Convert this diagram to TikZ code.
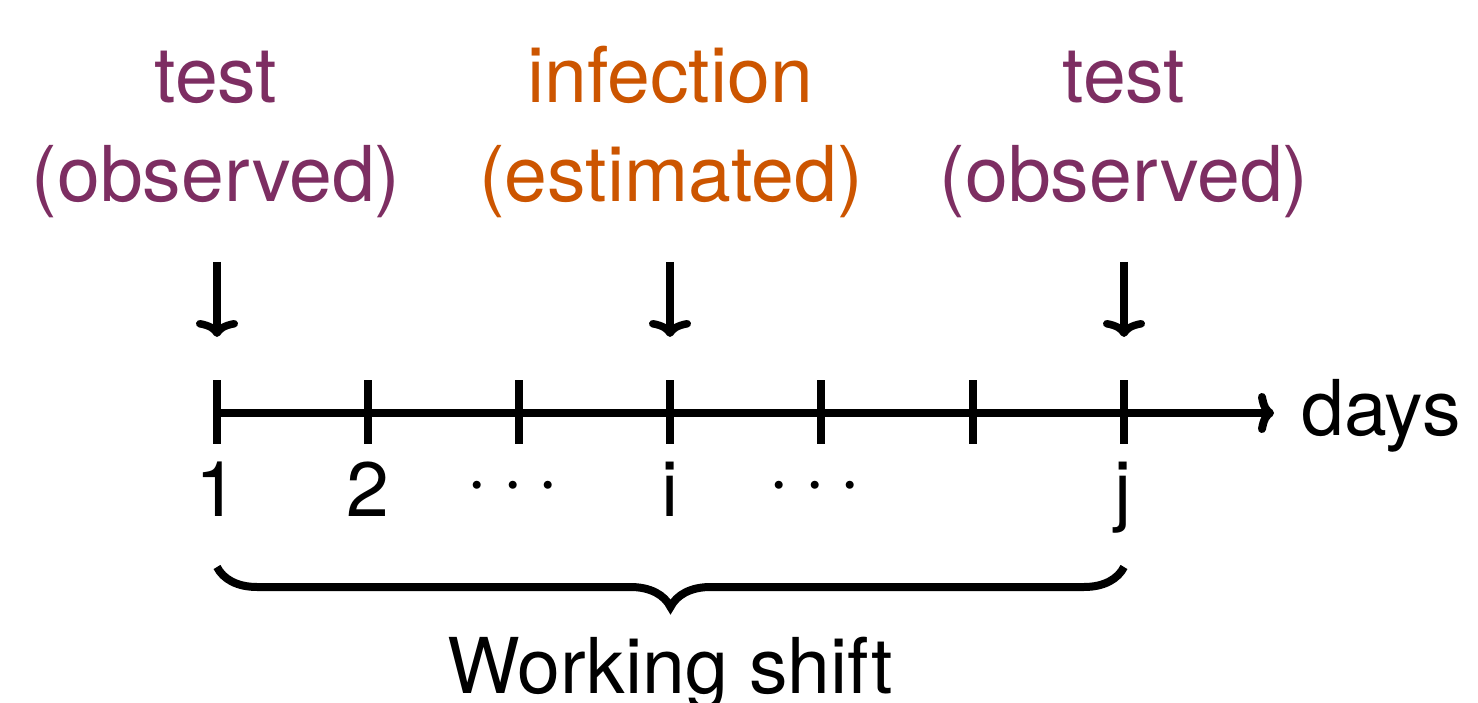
\documentclass[tikz,border=0pt]{standalone}
\usepackage{fontspec}
\setmainfont{TeX Gyre Heros}
\usetikzlibrary{arrows.meta,decorations.pathreplacing}
\definecolor{obscol}{HTML}{7D2E62}
\definecolor{estcol}{HTML}{CC5500}
\newcommand{\mydots}{·\kern14pt·\kern14pt·}
\begin{document}
\begin{tikzpicture}[x=1pt,y=-1pt,
  big/.style={font=\fontsize{77}{100}\selectfont, inner sep=0pt, anchor=base},
  tickmark/.style={line width=8pt},
  downarrow/.style={line width=7.5pt, -{To[length=17pt,width=42pt]}},
  axisarrow/.style={line width=8pt, -{To[length=16pt,width=40pt]}},
  bracestyle/.style={line width=8pt, decorate, decoration={brace,mirror,amplitude=40pt}}]
\useasboundingbox (0,0) rectangle (1478,703);

% titles
\node[big, text=obscol] (testA) at (216,103) {test};
\node[big, text=obscol] (obsA) at (216,202) {(observed)};
\node[big, text=estcol] (inf) at (670,103) {infection};
\node[big, text=estcol] (est) at (671,202) {(estimated)};
\node[big, text=obscol] (testB) at (1124,103) {test};
\node[big, text=obscol] (obsB) at (1124,202) {(observed)};

% down arrows
\coordinate (a1s) at (217,262); \coordinate (a1e) at (217,337);
\coordinate (a2s) at (670,262); \coordinate (a2e) at (670,337);
\coordinate (a3s) at (1124,262); \coordinate (a3e) at (1124,337);
\draw[downarrow] (a1s) -- (a1e);
\draw[downarrow] (a2s) -- (a2e);
\draw[downarrow] (a3s) -- (a3e);

% axis
\foreach \i/\x in {1/217,2/368,3/519,4/670,5/821,6/973,7/1124}{
  \coordinate (t\i) at (\x,413);
  \draw[tickmark] (\x,380) -- (\x,444);
}
\coordinate (axend) at (1274,413);
\draw[axisarrow] (t1) -- (axend);
\node[big, anchor=base west] (days) at (1301,435) {days};

% labels
\node[big] (l1) at (217,516) {1};
\node[big] (l2) at (368,516) {2};
\node[big] (d1) at (513,504) {\mydots};
\node[big] (li) at (670,516) {i};
\node[big] (d2) at (815,504) {\mydots};
\node[big] (lj) at (1123,516) {j};

% brace
\coordinate (b1) at (217,567);
\coordinate (b2) at (1124,567);
\draw[bracestyle] (b1) -- (b2);
\node[big] (ws) at (670,693) {Working shift};
\end{tikzpicture}
\end{document}
